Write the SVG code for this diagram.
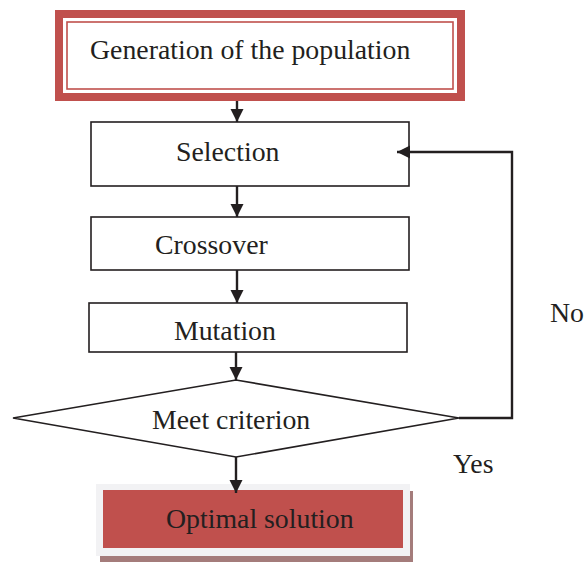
<svg xmlns="http://www.w3.org/2000/svg" width="584" height="562" viewBox="0 0 584 562">
<style>
text{font-family:"Liberation Serif","Times New Roman",serif;font-size:27.8px;fill:#231f20}
.box{fill:#fff;stroke:#231f20;stroke-width:1.6}
.conn{fill:none;stroke:#231f20;stroke-width:2.4}
</style>
<defs>
<marker id="ah" viewBox="0 0 10 10" refX="10" refY="5" markerWidth="5.5" markerHeight="5.5" orient="auto" markerUnits="strokeWidth">
<path d="M0,0 L10,5 L0,10 Z" fill="#231f20"/>
</marker>
</defs>
<rect width="584" height="562" fill="#fff"/>
<g id="generation">
<rect x="59" y="14" width="402" height="83" fill="#fff" stroke="#c0504d" stroke-width="8"/>
<rect x="67" y="22" width="386" height="67" fill="#fff" stroke="#c0504d" stroke-width="1.6"/>
<text x="90" y="59">Generation of the population</text>
</g>
<g id="selection">
<rect class="box" x="91" y="122" width="318" height="64"/>
<text x="176" y="161">Selection</text>
</g>
<g id="crossover">
<rect class="box" x="91" y="217" width="318" height="53"/>
<text x="155" y="254">Crossover</text>
</g>
<g id="mutation">
<rect class="box" x="89" y="303" width="318" height="49"/>
<text x="174" y="340">Mutation</text>
</g>
<g id="criterion">
<polygon class="box" points="13,418 236,380 459,418 236,457"/>
<text x="152" y="429">Meet criterion</text>
</g>
<g id="optimal">
<rect x="100" y="491" width="313" height="71" fill="#a47c7b"/>
<rect x="96" y="484" width="314" height="72" fill="#f2f2f4"/>
<rect x="103" y="490" width="300" height="58" fill="#c0504d"/>
<text x="166" y="528">Optimal solution</text>
</g>
<g id="connectors">
<line class="conn" x1="237" y1="101" x2="237" y2="122" marker-end="url(#ah)"/>
<line class="conn" x1="237" y1="186" x2="237" y2="217" marker-end="url(#ah)"/>
<line class="conn" x1="237" y1="270" x2="237" y2="303" marker-end="url(#ah)"/>
<line class="conn" x1="236" y1="352" x2="236" y2="380" marker-end="url(#ah)"/>
<line class="conn" x1="236" y1="457" x2="236" y2="493" marker-end="url(#ah)"/>
<polyline class="conn" points="459,418 512,418 512,152 397,152" marker-end="url(#ah)"/>
</g>
<text x="550" y="322">No</text>
<text x="453" y="473">Yes</text>
</svg>
